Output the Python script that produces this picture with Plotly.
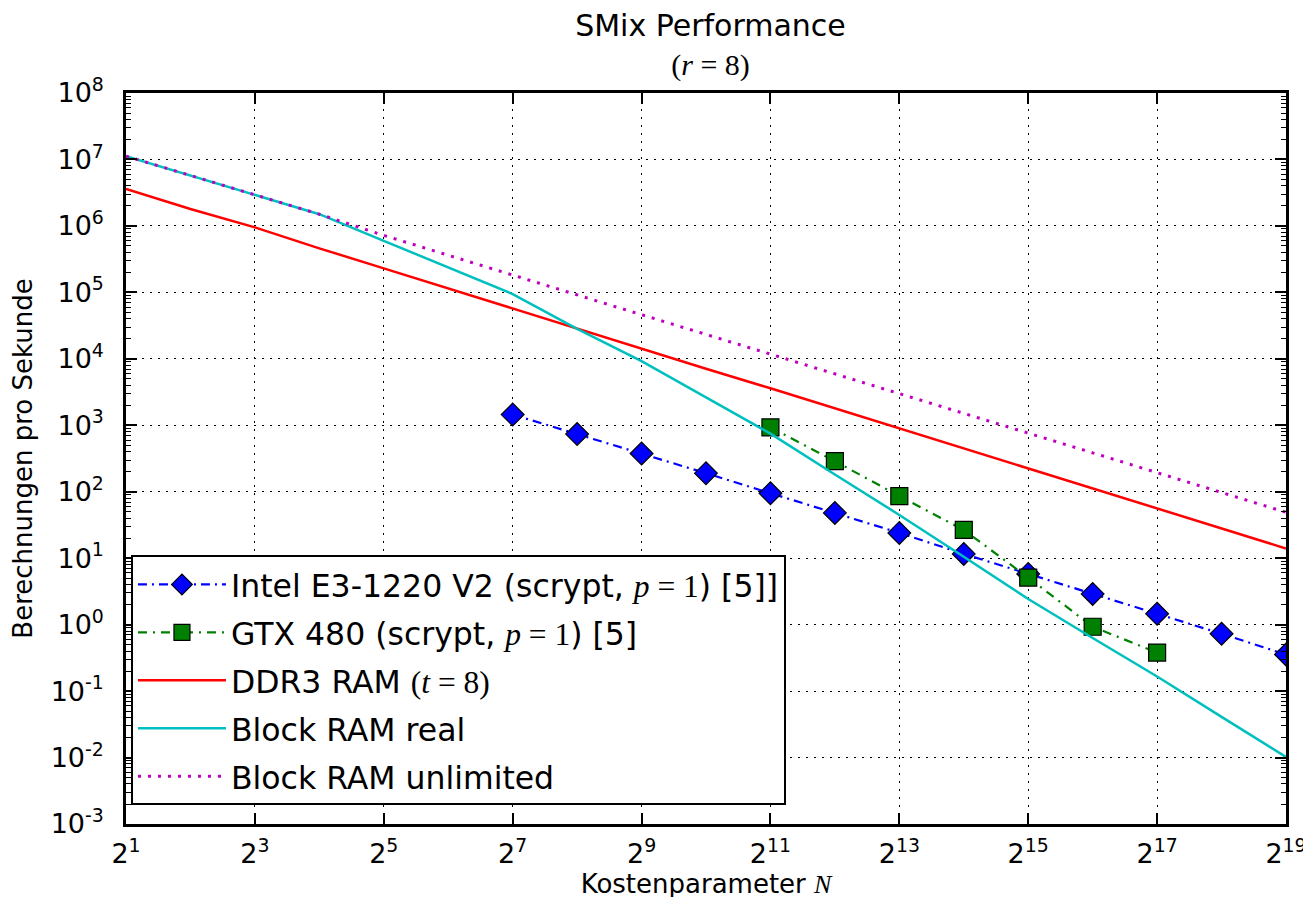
import math
import plotly.graph_objects as go

# ---- data ----
exp_all = list(range(1, 20))                      # log2 N for the model curves
intel_exp = list(range(7, 20))
intel_vals = [1450, 740, 376, 190, 95, 48, 24, 11.6, 5.8, 2.9, 1.46, 0.73, 0.355]
gtx_exp = list(range(11, 18))
gtx_vals = [930, 288, 86, 26.6, 5.1, 0.93, 0.38]
ddr3_vals = [3.6e6, 1.8e6, 9.5e5, 4.6e5, 2.3e5, 1.15e5, 5.7e4, 2.85e4, 1.4e4, 7.1e3,
             3.6e3, 1.8e3, 900, 450, 225, 112, 56, 28, 14]
bram_real_vals = [1.12e7, 5.7e6, 2.95e6, 1.5e6, 5.96e5, 2.37e5, 9.44e4, 2.82e4, 9.2e3, 2.63e3,
                  750, 182, 44.7, 10.5, 2.43, 0.63, 0.166, 0.041, 0.0102]
bram_unl_vals = [1.12e7, 5.7e6, 2.95e6, 1.5e6, 7.2e5, 3.6e5, 1.81e5, 9.14e4, 4.61e4, 2.33e4,
                 1.17e4, 5.93e3, 2.99e3, 1.51e3, 762, 385, 194, 98, 49]

x_tick_exp = list(range(1, 20, 2))
y_tick_exp = list(range(-3, 9))

SANS = "DejaVu Sans"
SERIF = "Liberation Serif"

def math_span(s):
    return f"<span style='font-family:{SERIF}'>{s}</span>"

names = [
    "Intel E3-1220 V2 (scrypt, " + math_span("<i>p</i> = 1") + ") [5]]",
    "GTX 480 (scrypt, " + math_span("<i>p</i> = 1") + ") [5]",
    "DDR3 RAM " + math_span("(<i>t</i> = 8)"),
    "Block RAM real",
    "Block RAM unlimited",
]

fig = go.Figure()

fig.add_trace(go.Scatter(
    x=[2 ** k for k in intel_exp], y=intel_vals, name=names[0], legendgroup="a",
    mode="lines+markers",
    line=dict(color="#0000ff", width=2.2, dash="9px,5px,2px,5px"),
    marker=dict(symbol="diamond", size=17.5, color="#0000ff", line=dict(color="black", width=1.2)),
))
fig.add_trace(go.Scatter(
    x=[2 ** k for k in gtx_exp], y=gtx_vals, name=names[1], legendgroup="b",
    mode="lines+markers",
    line=dict(color="#008000", width=2.2, dash="9px,6px,2px,6px"),
    marker=dict(symbol="square", size=17, color="#008000", line=dict(color="black", width=1.2)),
))
fig.add_trace(go.Scatter(
    x=[2 ** k for k in exp_all], y=ddr3_vals, name=names[2], legendgroup="c",
    mode="lines", line=dict(color="#ff0000", width=2.5),
))
fig.add_trace(go.Scatter(
    x=[2 ** k for k in exp_all], y=bram_real_vals, name=names[3], legendgroup="d",
    mode="lines", line=dict(color="#00bfbf", width=2.5),
))
fig.add_trace(go.Scatter(
    x=[2 ** k for k in exp_all], y=bram_unl_vals, name=names[4], legendgroup="e",
    mode="lines", line=dict(color="#bf00bf", width=3, dash="3px,7px"),
))

minor_y = [m * 10.0 ** k for k in range(-3, 8) for m in range(2, 10)]

axis_common = dict(
    type="log",
    showline=True, linewidth=2.5, linecolor="black", mirror="allticks",
    ticks="inside", ticklen=11, tickwidth=1.5, tickcolor="black",
    showgrid=True, gridcolor="black", gridwidth=1.2, griddash="2px,6px",
    zeroline=False,
    tickfont=dict(family=SANS, size=27, color="black"),
)

fig.update_xaxes(
    **axis_common,
    range=[math.log10(2), math.log10(2 ** 19)],
    tickmode="array",
    tickvals=[2 ** k for k in x_tick_exp],
    ticktext=[f"2<sup>{k}</sup>" for k in x_tick_exp],
    ticklabelstandoff=4,
    title=dict(text="Kostenparameter " + math_span("<i>N</i>"),
               font=dict(family=SANS, size=26, color="black"), standoff=6),
)
fig.update_yaxes(
    **axis_common,
    range=[-3, 8],
    tickmode="array",
    tickvals=[10.0 ** k for k in y_tick_exp],
    ticktext=[f"10<sup>{k}</sup>" for k in y_tick_exp],
    ticklabelstandoff=14,
    minor=dict(tickmode="array", tickvals=minor_y, ticks="inside", ticklen=5,
               tickwidth=1.2, tickcolor="black", showgrid=False),
    title=dict(text="Berechnungen pro Sekunde",
               font=dict(family=SANS, size=26, color="black"), standoff=12),
)

fig.update_layout(
    width=1311, height=897,
    margin=dict(l=118, r=24, t=85, b=77),
    paper_bgcolor="white", plot_bgcolor="white",
    title=dict(
        text="SMix Performance<br>" + math_span("(<i>r</i> = 8)"),
        x=(118 + 1287) / 2 / 1311, xanchor="center",
        y=1 - 28 / 897, yanchor="top",
        font=dict(family=SANS, size=30, color="black"),
    ),
    legend=dict(
        x=(123 - 118) / 1169, y=(820 - 550) / 735, xanchor="left", yanchor="top",
        bgcolor="white", bordercolor="black", borderwidth=2,
        font=dict(family=SANS, size=31.5, color="black"),
        tracegroupgap=4, itemwidth=88,
    ),
    showlegend=True,
)

fig.write_html("out.html")
